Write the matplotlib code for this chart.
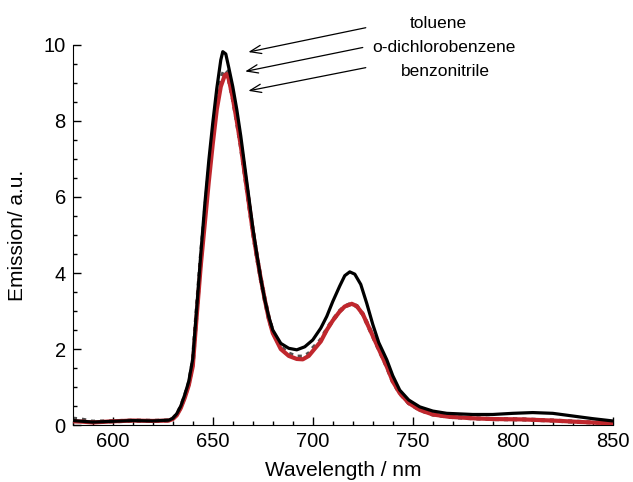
import numpy as np
import matplotlib.pyplot as plt
from matplotlib.ticker import MultipleLocator

plt.rcParams['font.family'] = ['Liberation Sans', 'DejaVu Sans']

# toluene (black)
wl_tol = [580, 585, 590, 600, 610, 620, 628, 630, 632, 634, 636, 638, 640, 642, 644, 646,
          648, 650, 652, 654, 655, 656.5, 658, 660, 662, 664, 666, 668, 670, 672, 674, 676,
          678, 680, 684, 688, 692, 696, 700, 704, 707, 710, 713.5, 716, 718.5, 721, 724,
          727, 730, 733, 737, 740, 743.5, 748, 753.5, 760, 767, 780, 790, 800, 810, 820,
          830, 840, 850]
em_tol = [0.12, 0.10, 0.08, 0.10, 0.12, 0.11, 0.13, 0.18, 0.30, 0.50, 0.80, 1.15, 1.75, 3.10,
          4.50, 5.80, 6.95, 7.95, 8.85, 9.60, 9.82, 9.76, 9.40, 8.90, 8.30, 7.60, 6.80, 6.00,
          5.20, 4.50, 3.85, 3.30, 2.85, 2.50, 2.15, 2.02, 1.98, 2.06, 2.24, 2.55, 2.86, 3.25,
          3.66, 3.93, 4.03, 3.97, 3.70, 3.20, 2.65, 2.17, 1.72, 1.30, 0.92, 0.66, 0.48, 0.37,
          0.31, 0.28, 0.28, 0.31, 0.33, 0.31, 0.24, 0.17, 0.11]

# o-dichlorobenzene (grey)
wl_dcb = [580, 585, 590, 600, 610, 620, 628, 630, 632, 634, 636, 638, 640, 642, 644, 646,
          648, 650, 652, 654, 656, 657, 658, 660, 662, 664, 666, 668, 670, 672, 674, 676,
          678, 680, 684, 688, 692, 695, 698, 700, 704, 707, 710, 713.5, 716, 719, 722, 725,
          728.5, 733, 737, 740, 743.5, 748, 753.5, 760, 768, 780, 790, 805, 820, 835, 850]
em_dcb = [0.17, 0.14, 0.09, 0.10, 0.12, 0.11, 0.12, 0.17, 0.28, 0.48, 0.76, 1.10, 1.65, 3.05,
          4.40, 5.55, 6.65, 7.65, 8.55, 9.10, 9.35, 9.30, 9.10, 8.60, 8.00, 7.35, 6.60, 5.85,
          5.10, 4.45, 3.85, 3.30, 2.82, 2.45, 2.05, 1.88, 1.80, 1.80, 1.88, 2.02, 2.24, 2.52,
          2.76, 3.00, 3.12, 3.19, 3.13, 2.92, 2.52, 2.00, 1.54, 1.15, 0.84, 0.58, 0.40, 0.28,
          0.22, 0.18, 0.16, 0.15, 0.12, 0.08, 0.05]

# benzonitrile (red)
wl_bzn = [580, 585, 590, 600, 610, 620, 628, 630, 632, 634, 636, 638, 640, 642, 644, 646,
          648, 650, 652, 654, 656, 657, 658, 660, 662, 664, 666, 668, 670, 672, 674, 676,
          678, 680, 684, 688, 692, 695, 698, 700.5, 704, 707, 710, 713.5, 716, 719.5, 722,
          725, 728.5, 733, 737, 740, 743.5, 748, 753.5, 760, 768, 780, 790, 805, 820, 835, 850]
em_bzn = [0.10, 0.09, 0.07, 0.10, 0.12, 0.11, 0.12, 0.16, 0.26, 0.45, 0.72, 1.05, 1.55, 2.90,
          4.20, 5.30, 6.40, 7.40, 8.30, 8.90, 9.20, 9.23, 9.10, 8.60, 8.00, 7.35, 6.60, 5.85,
          5.10, 4.45, 3.85, 3.30, 2.80, 2.42, 2.00, 1.82, 1.74, 1.73, 1.82, 1.98, 2.20, 2.50,
          2.75, 2.99, 3.12, 3.19, 3.13, 2.92, 2.52, 2.00, 1.54, 1.15, 0.84, 0.58, 0.40, 0.28,
          0.22, 0.18, 0.16, 0.15, 0.12, 0.08, 0.045]

labels = ['toluene', 'o-dichlorobenzene', 'benzonitrile']
arrow_heads = [(667.8, 9.81), (666.2, 9.30), (667.8, 8.79)]
arrow_tails = [(726.5, 10.45), (725.0, 9.93), (726.5, 9.40)]
label_pos = [(762.6, 10.55), (765.6, 9.93), (766.2, 9.30)]

fig = plt.figure(figsize=(6.33, 4.82), dpi=100)
ax = fig.add_axes([0.115, 0.118, 0.853, 0.789])

ax.plot(wl_dcb, em_dcb, color='#505050', lw=3.0, ls=(0, (1, 1.2)), zorder=2)
ax.plot(wl_bzn, em_bzn, color='#c0272d', lw=3.0, zorder=3)
ax.plot(wl_tol, em_tol, color='black', lw=2.3, zorder=4)

for lab, head, tail, pos in zip(labels, arrow_heads, arrow_tails, label_pos):
    ax.annotate('', xy=head, xytext=tail, annotation_clip=False,
                arrowprops=dict(arrowstyle='->,head_length=0.8,head_width=0.3',
                                color='black', lw=0.9, shrinkA=0, shrinkB=0))
    ax.text(pos[0], pos[1], lab, ha='center', va='center', fontsize=12.5, clip_on=False)

ax.set_xlim(580, 850)
ax.set_ylim(0, 10)
ax.xaxis.set_major_locator(MultipleLocator(50))
ax.xaxis.set_minor_locator(MultipleLocator(10))
ax.yaxis.set_major_locator(MultipleLocator(2))
ax.yaxis.set_minor_locator(MultipleLocator(0.5))
ax.tick_params(which='both', direction='in', labelsize=14.5, width=1)
ax.tick_params(which='major', length=6, pad=5)
ax.tick_params(which='minor', length=3)
ax.spines['top'].set_visible(False)
ax.spines['right'].set_visible(False)

ax.set_xlabel('Wavelength / nm', fontsize=15, labelpad=7)
ax.set_ylabel('Emission/ a.u.', fontsize=15, labelpad=12)

fig.savefig('out.png', dpi=100)
